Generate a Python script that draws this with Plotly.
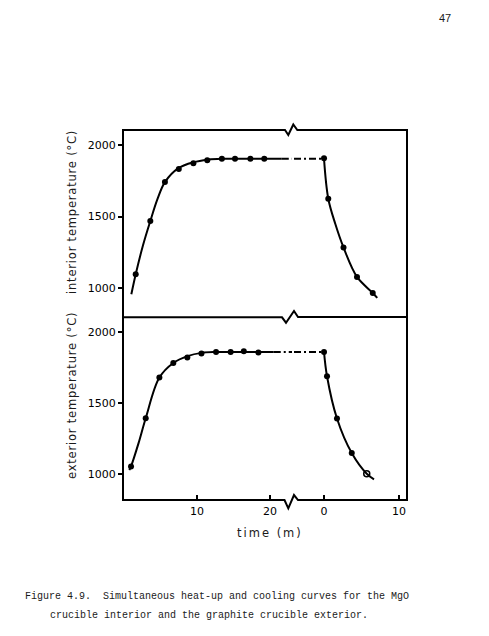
import plotly.graph_objects as go
from plotly.subplots import make_subplots

# ---------------- data ----------------
# interior (MgO crucible) - heat-up, minutes
int_heat_t = [1.6, 3.6, 5.6, 7.5, 9.5, 11.4, 13.4, 15.2, 17.3, 19.2]
int_heat_T = [1098, 1469, 1741, 1832, 1872, 1893, 1904, 1904, 1904, 1904]
int_cool_t = [0, 0.57, 2.6, 4.4, 6.5]
int_cool_T = [1908, 1625, 1285, 1079, 967]
# fitted curve (traced)
int_heat_curve_t = [1.0, 1.6, 2.6, 3.6, 4.6, 5.6, 7.5, 9.5, 11.5, 13.5, 16.0, 21.6]
int_heat_curve_T = [958, 1098, 1300, 1469, 1625, 1741, 1840, 1880, 1898, 1904, 1905, 1905]
int_cool_curve_t = [0, 0.57, 1.5, 2.6, 4.4, 6.5, 7.1]
int_cool_curve_T = [1905, 1625, 1450, 1285, 1079, 967, 932]
int_hold_left_t = [21.6, 25]
int_hold_right_t = [-6, 0]
int_hold_T = [1905, 1905]

# exterior (graphite crucible)
ext_heat_t = [0.96, 2.97, 4.84, 6.75, 8.67, 10.6, 12.6, 14.6, 16.4, 18.4]
ext_heat_T = [1054, 1394, 1681, 1784, 1822, 1850, 1861, 1861, 1866, 1857]
ext_cool_t = [0, 0.4, 1.73, 3.7, 5.7]
ext_cool_T = [1862, 1690, 1392, 1148, 1002]
ext_heat_curve_t = [0.73, 0.96, 2.0, 2.97, 4.84, 6.75, 8.7, 10.6, 12.6, 15.0, 20.5]
ext_heat_curve_T = [1028, 1054, 1220, 1394, 1681, 1784, 1832, 1855, 1861, 1862, 1862]
ext_cool_curve_t = [0, 0.4, 1.73, 3.7, 5.7, 6.67]
ext_cool_curve_T = [1862, 1690, 1392, 1148, 1002, 963]
ext_hold_left_t = [20.5, 25]
ext_hold_right_t = [-6, 0]
ext_hold_T = [1862, 1862]

y_ticks = [1000, 1500, 2000]
y_ticklabels = ["1000", "1500", "2000"]
x_left_ticks = [10, 20]
x_right_ticks = [0, 10]

# ---------------- layout geometry ----------------
W, H = 489, 636
L, R, T, B = 123, 82, 130, 136
PW, PH = W - L - R, H - T - B


def P(px, py):
    return (px - L) / PW, (H - B - py) / PH


fig = make_subplots(rows=2, cols=2, shared_xaxes=True, shared_yaxes=True,
                    horizontal_spacing=0, vertical_spacing=0,
                    column_widths=[169, 115], row_heights=[187.3, 182.7])

line_style = dict(color="black", width=2)
DASH = "7px,3px,2px,3px"


def add_panel(row, heat_ct, heat_cT, cool_ct, cool_cT, hold_l, hold_r, hold_T,
              heat_t, heat_T, cool_t, cool_T, open_last=False):
    fig.add_trace(go.Scatter(x=heat_ct, y=heat_cT, mode="lines", line_shape="spline",
                             line=line_style), row=row, col=1)
    fig.add_trace(go.Scatter(x=hold_l, y=hold_T, mode="lines",
                             line=dict(color="black", width=2, dash=DASH)),
                  row=row, col=1)
    fig.add_trace(go.Scatter(x=hold_r, y=hold_T, mode="lines",
                             line=dict(color="black", width=2, dash=DASH)),
                  row=row, col=2)
    fig.add_trace(go.Scatter(x=cool_ct, y=cool_cT, mode="lines", line_shape="spline",
                             line=line_style), row=row, col=2)
    fig.add_trace(go.Scatter(x=heat_t, y=heat_T, mode="markers",
                             marker=dict(color="black", size=6, line=dict(width=0))),
                  row=row, col=1)
    symbols = ["circle"] * len(cool_t)
    widths = [0] * len(cool_t)
    if open_last:
        symbols[-1] = "circle-open"
        widths[-1] = 1.5
    fig.add_trace(go.Scatter(x=cool_t, y=cool_T, mode="markers",
                             marker=dict(color="black", size=6, symbol=symbols,
                                         line=dict(color="black", width=widths))),
                  row=row, col=2)


add_panel(1, int_heat_curve_t, int_heat_curve_T, int_cool_curve_t, int_cool_curve_T,
          int_hold_left_t, int_hold_right_t, int_hold_T,
          int_heat_t, int_heat_T, int_cool_t, int_cool_T)
add_panel(2, ext_heat_curve_t, ext_heat_curve_T, ext_cool_curve_t, ext_cool_curve_T,
          ext_hold_left_t, ext_hold_right_t, ext_hold_T,
          ext_heat_t, ext_heat_T, ext_cool_t, ext_cool_T, open_last=True)

tick_font = dict(family="DejaVu Sans", size=11, color="black")

fig.update_xaxes(showgrid=False, zeroline=False, showline=False)
fig.update_yaxes(showgrid=False, zeroline=False, showline=False)
fig.update_xaxes(range=[-0.14, 23.0], col=1)
fig.update_xaxes(range=[-4.27, 11.07], col=2)
fig.update_xaxes(ticks="", showticklabels=False, row=1)
fig.update_xaxes(ticks="inside", ticklen=5, tickwidth=1.5, tickcolor="black",
                 tickfont=tick_font, tickvals=x_left_ticks, ticklabelstandoff=3,
                 row=2, col=1)
fig.update_xaxes(ticks="inside", ticklen=5, tickwidth=1.5, tickcolor="black",
                 tickfont=tick_font, tickvals=x_right_ticks, ticklabelstandoff=3,
                 row=2, col=2)
fig.update_yaxes(range=[797, 2105], row=1)
fig.update_yaxes(range=[817, 2106], row=2)
fig.update_yaxes(ticks="outside", ticklen=4, tickwidth=1.5, tickcolor="black",
                 tickvals=y_ticks, ticktext=y_ticklabels, tickfont=tick_font, col=1)
fig.update_yaxes(ticks="", showticklabels=False, col=2)


# frame with axis-break zigzags
def path(points):
    s = ""
    for i, (px, py) in enumerate(points):
        x, y = P(px, py)
        s += ("M" if i == 0 else "L") + f"{x:.5f},{y:.5f} "
    return s


outer = [(123, 130), (285, 130), (288.3, 135), (293.3, 124.5), (297.3, 130), (407, 130),
         (407, 500), (298, 500), (294, 495), (288.3, 508.3), (284.5, 500), (123, 500)]
outer_path = path(outer) + "Z"
middle = [(123, 317.3), (282, 317.3), (286, 322.7), (294, 311), (298, 317), (407, 317)]
shapes = [
    dict(type="path", xref="paper", yref="paper", path=outer_path,
         line=dict(color="black", width=2)),
    dict(type="path", xref="paper", yref="paper", path=path(middle),
         line=dict(color="black", width=2)),
]

ann = []


def A(text, px, py, size, family, xanchor="center", angle=0, yanchor="middle"):
    x, y = P(px, py)
    ann.append(dict(text=text, x=x, y=y, xref="paper", yref="paper", showarrow=False,
                    xanchor=xanchor, yanchor=yanchor, textangle=angle,
                    font=dict(family=family, size=size, color="#1a1a1a")))


A('<span style="letter-spacing:0.8px">interior temperature (°C)</span>',
  72, 212, 11.5, "DejaVu Sans", angle=-90)
A('<span style="letter-spacing:0.8px">exterior temperature (°C)</span>',
  72, 396, 11.5, "DejaVu Sans", angle=-90)
A('<span style="letter-spacing:2px">time (m)</span>', 270, 533, 11.5, "DejaVu Sans")
A("Figure 4.9.\u00a0\u00a0Simultaneous heat-up and cooling curves for the MgO",
  23, 596, 10, "Liberation Mono", xanchor="left")
A("crucible interior and the graphite crucible exterior.",
  48, 615, 10, "Liberation Mono", xanchor="left")
A("47", 444.5, 17.5, 11, "Liberation Sans")

fig.update_layout(width=W, height=H, margin=dict(l=L, r=R, t=T, b=B),
                  paper_bgcolor="white", plot_bgcolor="white", showlegend=False,
                  shapes=shapes, annotations=ann)

fig.write_html("out.html")
